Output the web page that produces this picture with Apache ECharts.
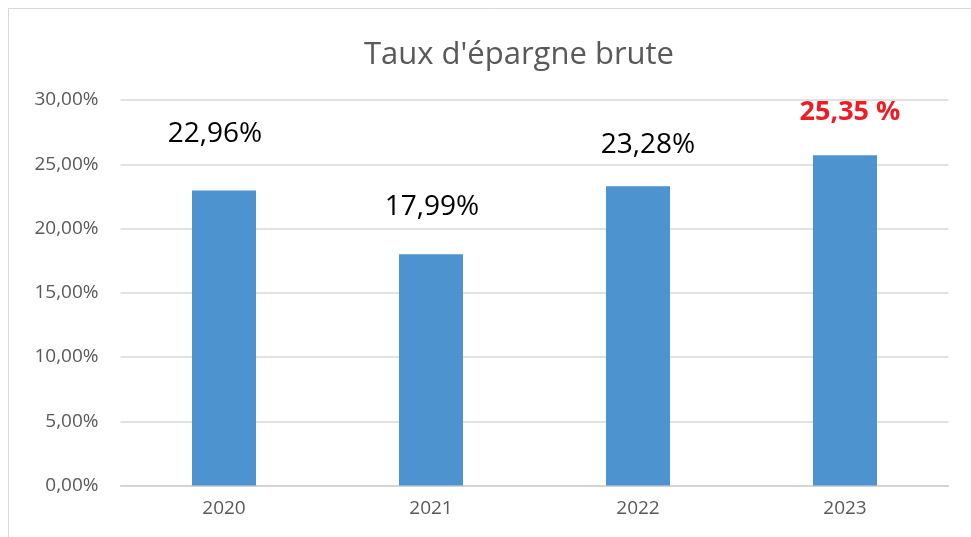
<!DOCTYPE html>
<html>
<head>
<meta charset="utf-8">
<script src="https://cdn.jsdelivr.net/npm/echarts@6/dist/echarts.min.js"></script>
<style>
html,body{margin:0;padding:0;background:#fff;}
#chart{width:971px;height:537px;}
</style>
</head>
<body>
<div id="chart"></div>
<script>
const titleText = "Taux d'épargne brute";
const categories = ['2020', '2021', '2022', '2023'];
const values = [22.96, 17.99, 23.28, 25.7];
const labelTexts = ['22,96%', '17,99%', '23,28%', '25,35 %'];
const yTicks = { min: 0, max: 30, interval: 5 };

const labelOffsets = [[-9, -42], [1, -33], [10, -27], [5, -29]];
const baseLabel = { fontFamily: 'Open Sans', fontSize: 28, lineHeight: 28, color: '#000' };
const highlightLabel = { fontFamily: 'Open Sans', fontSize: 27, lineHeight: 28, color: '#ee1c25', fontWeight: 'bold' };

const chart = echarts.init(document.getElementById('chart'), null, { renderer: 'canvas' });
chart.setOption({
  backgroundColor: '#fff',
  animation: false,
  title: {
    text: titleText,
    left: 514,
    textAlign: 'center',
    top: 35,
    textStyle: { fontFamily: 'Open Sans', fontSize: 31, fontWeight: 'normal', color: '#595959' }
  },
  graphic: [
    { type: 'line', shape: { x1: 8, y1: 8.5, x2: 971, y2: 8.5 }, style: { stroke: '#d9d9d9', lineWidth: 1 } },
    { type: 'line', shape: { x1: 8.5, y1: 8, x2: 8.5, y2: 537 }, style: { stroke: '#d9d9d9', lineWidth: 1 } }
  ],
  grid: { left: 120.5, right: 22.5, top: 100, bottom: 51.5 },
  xAxis: {
    type: 'category',
    data: categories,
    axisTick: { show: false },
    axisLine: { lineStyle: { color: '#d0d0d0', width: 1.5 } },
    axisLabel: { fontFamily: 'Open Sans', fontSize: 19, color: '#595959', margin: 14 }
  },
  yAxis: {
    type: 'value',
    min: yTicks.min,
    max: yTicks.max,
    interval: yTicks.interval,
    axisLine: { show: false },
    axisTick: { show: false },
    splitLine: { lineStyle: { color: '#d9d9d9', width: 1.5 } },
    axisLabel: {
      fontFamily: 'Open Sans', fontSize: 19, color: '#595959', margin: 22,
      formatter: v => v.toFixed(2).replace('.', ',') + '%'
    }
  },
  series: [{
    type: 'bar',
    barWidth: 64,
    itemStyle: { color: '#4d93cf' },
    data: values.map((v, i) => ({
      value: v,
      label: Object.assign({
        show: true,
        position: 'top',
        distance: 0,
        offset: labelOffsets[i],
        formatter: () => labelTexts[i]
      }, i === 3 ? highlightLabel : baseLabel)
    }))
  }]
});
</script>
</body>
</html>
